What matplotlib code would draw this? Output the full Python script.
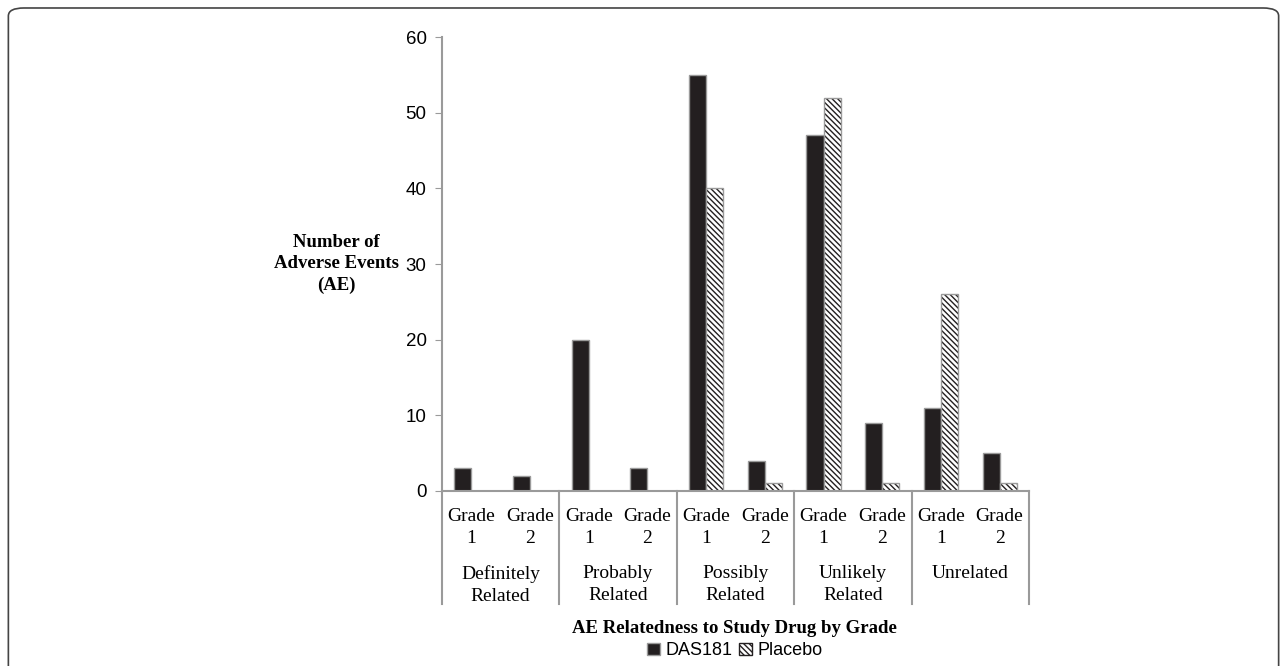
import numpy as np
import matplotlib.pyplot as plt
from matplotlib.patches import FancyBboxPatch, Patch
import matplotlib.transforms as mtransforms

groups = ['Definitely\nRelated', 'Probably\nRelated', 'Possibly\nRelated',
          'Unlikely\nRelated', 'Unrelated']
grades = ['Grade\n1', 'Grade\n2']
das181 = [3, 2, 20, 3, 55, 4, 47, 9, 11, 5]
placebo = [0, 0, 0, 0, 40, 1, 52, 1, 26, 1]

serif = 'Liberation Serif'
sans = 'Liberation Sans'
gray = '#9a9a9a'
hatch = '\\\\\\\\\\\\'

fig = plt.figure(figsize=(12.87, 6.66), dpi=100)
ax = fig.add_axes([0.3434, 0.2628, 0.4561, 0.6816])

x = np.arange(len(das181))
w = 0.29
plt.rcParams['hatch.linewidth'] = 1.0
ax.bar(x - w / 2, das181, w, color='#231f20', edgecolor=gray, linewidth=1.0)
ax.bar(x + w / 2, placebo, w, color='white', edgecolor='#231f20', hatch=hatch,
       linewidth=0)
# gray outline over hatched bars
ax.bar(x + w / 2, placebo, w, color='none', edgecolor=gray, linewidth=1.0)

ax.set_xlim(-0.5, len(das181) - 0.5)
ax.set_ylim(0, 60)
ax.set_yticks(np.arange(0, 61, 10))
ax.tick_params(axis='y', length=5, color=gray, labelsize=13.5, pad=6)
for t in ax.get_yticklabels():
    t.set_fontfamily(sans)
ax.set_xticks([])
for s in ['top', 'right']:
    ax.spines[s].set_visible(False)
for s in ['left', 'bottom']:
    ax.spines[s].set_color(gray)
    ax.spines[s].set_linewidth(1.5)

trans = mtransforms.blended_transform_factory(ax.transData, ax.transAxes)
# grade labels
for i in x:
    ax.text(i, -0.038, grades[i % 2], transform=trans, ha='center', va='top',
            fontsize=14, family=serif, linespacing=1.4)
# group labels
for g, name in enumerate(groups):
    ax.text(2 * g + 0.5, -0.163, name, transform=trans, ha='center', va='top',
            fontsize=14, family=serif, linespacing=1.4)
# separators
for b in np.arange(-0.5, len(das181), 2):
    ax.plot([b, b], [0, -0.25], transform=trans, color=gray, lw=1.5, clip_on=False)

ax.text(-0.18, 0.5, 'Number of\nAdverse Events\n(AE)', transform=ax.transAxes,
        ha='center', va='center', fontsize=13.5, family=serif, fontweight='bold',
        linespacing=1.35)

fig.text(0.571, 0.057, 'AE Relatedness to Study Drug by Grade', ha='center',
         va='center', fontsize=13.5, family=serif, fontweight='bold')

handles = [Patch(facecolor='#231f20', edgecolor=gray, label='DAS181'),
           Patch(facecolor='white', edgecolor='#231f20', hatch=hatch, label='Placebo')]
fig.legend(handles=handles, loc='center', bbox_to_anchor=(0.571, 0.023), ncol=2,
           frameon=False, handlelength=0.7, handleheight=0.7, handletextpad=0.3,
           columnspacing=0.4, prop={'family': sans, 'size': 13})

border = FancyBboxPatch((0.0065, -0.05), 0.987, 1.038, transform=fig.transFigure,
                        boxstyle='round,pad=0,rounding_size=0.012', facecolor='none',
                        edgecolor='#444444', lw=1.2)
fig.patches.append(border)

fig.savefig('out.png', dpi=100)
